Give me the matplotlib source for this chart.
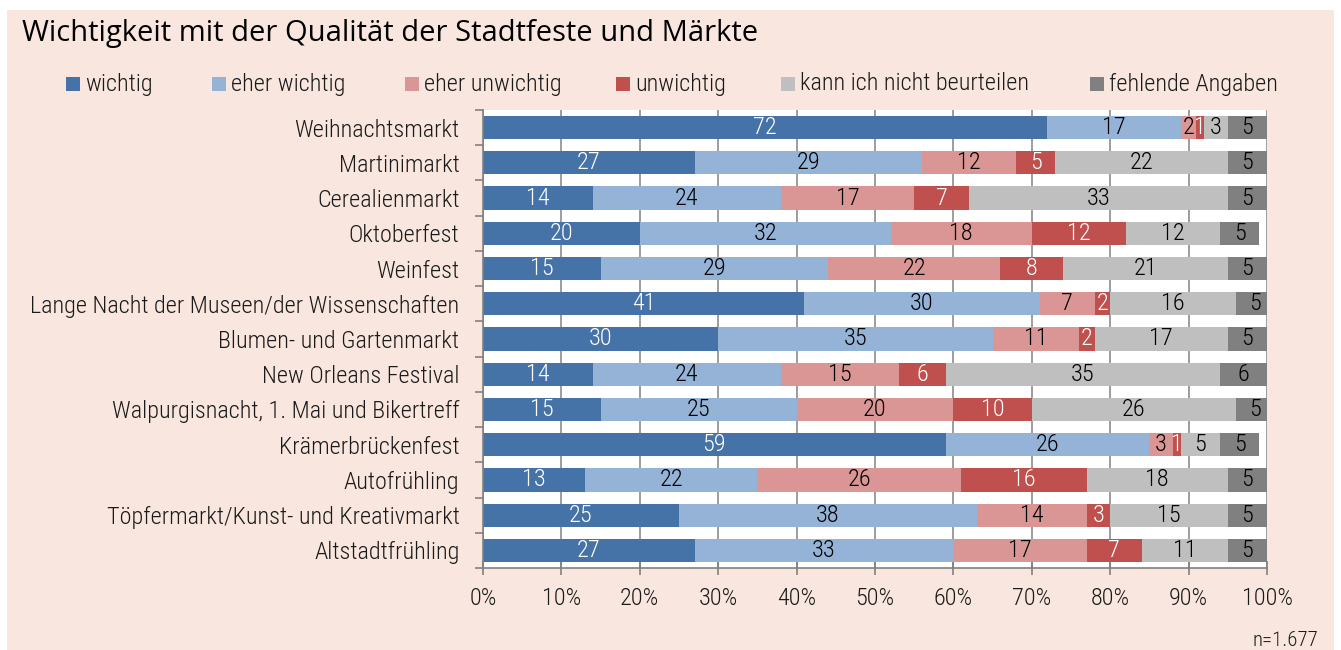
import matplotlib
matplotlib.use("Agg")
import matplotlib.pyplot as plt
from matplotlib import font_manager
from matplotlib.patches import Rectangle
import numpy as np

# ---- data ----
categories = [
    "Weihnachtsmarkt",
    "Martinimarkt",
    "Cerealienmarkt",
    "Oktoberfest",
    "Weinfest",
    "Lange Nacht der Museen/der Wissenschaften",
    "Blumen- und Gartenmarkt",
    "New Orleans Festival",
    "Walpurgisnacht, 1. Mai und Bikertreff",
    "Krämerbrückenfest",
    "Autofrühling",
    "Töpfermarkt/Kunst- und Kreativmarkt",
    "Altstadtfrühling",
]
wichtig = [72, 27, 14, 20, 15, 41, 30, 14, 15, 59, 13, 25, 27]
eher_wichtig = [17, 29, 24, 32, 29, 30, 35, 24, 25, 26, 22, 38, 33]
eher_unwichtig = [2, 12, 17, 18, 22, 7, 11, 15, 20, 3, 26, 14, 17]
unwichtig = [1, 5, 7, 12, 8, 2, 2, 6, 10, 1, 16, 3, 7]
nicht_beurteilen = [3, 22, 33, 12, 21, 16, 17, 35, 26, 5, 18, 15, 11]
fehlend = [5, 5, 5, 5, 5, 5, 5, 6, 5, 5, 5, 5, 5]

series_names = ["wichtig", "eher wichtig", "eher unwichtig", "unwichtig",
                "kann ich nicht beurteilen", "fehlende Angaben"]
series_values = [wichtig, eher_wichtig, eher_unwichtig, unwichtig,
                 nicht_beurteilen, fehlend]
series_colors = ["#4573A7", "#95B3D7", "#DA9694", "#C0504D", "#BFBFBF", "#808080"]
label_colors = ["white", "black", "black", "white", "black", "black"]
xtick_values = [0, 10, 20, 30, 40, 50, 60, 70, 80, 90, 100]
title_text = "Wichtigkeit mit der Qualität der Stadtfeste und Märkte"
sample_note = "n=1.677"

# ---- fonts ----
available = {f.name for f in font_manager.fontManager.ttflist}
font = "DejaVu Sans"
for cand in ["Liberation Sans Narrow", "Roboto Condensed", "Open Sans Condensed",
             "Noto Sans", "Lato"]:
    if cand in available:
        font = cand
        break
title_font = "Open Sans" if "Open Sans" in available else "DejaVu Sans"
plt.rcParams["font.family"] = [font, "DejaVu Sans"]
plt.rcParams["font.weight"] = "light"
txt = "#1a1a1a"
fs = 17.5

W, H = 1341, 650
fig = plt.figure(figsize=(W / 100, H / 100), dpi=100)
fig.patch.set_facecolor("white")

# peach panel behind everything
fig.add_artist(Rectangle((7 / W, 0), (1334 - 7) / W, 1 - 10 / H,
                         transform=fig.transFigure, facecolor="#F9E7DF",
                         edgecolor="none", zorder=0))

ax = fig.add_axes([483 / W, 1 - 568 / H, (1267 - 483) / W, (568 - 110) / H])
ax.set_facecolor("white")
ax.set_zorder(1)

y = np.arange(len(categories))
left = np.zeros(len(categories))
for vals, color, lc in zip(series_values, series_colors, label_colors):
    vals = np.array(vals, dtype=float)
    ax.barh(y, vals, left=left, height=0.66, color=color, edgecolor="none", zorder=2)
    for yi, (l, v) in enumerate(zip(left, vals)):
        ax.text(l + v / 2, yi, f"{int(v)}", ha="center", va="center",
                color=lc, fontsize=fs, zorder=3)
    left += vals

ax.set_xlim(0, 100)
ax.set_ylim(len(categories) - 0.5, -0.5)
ax.set_yticks(y)
ax.set_yticklabels(categories, fontsize=fs, color=txt)
ax.tick_params(axis="y", length=0, pad=17)
ax.set_yticks(np.arange(len(categories) + 1) - 0.5, minor=True)
ax.tick_params(axis="y", which="minor", length=6, color="#808080", width=1.2)

ax.set_xticks(xtick_values)
ax.set_xticklabels([f"{v}%" for v in xtick_values], fontsize=fs, color=txt)
ax.tick_params(axis="x", direction="inout", length=10, color="#808080", width=1.2, pad=9)
ax.grid(axis="x", color="#8C8C8C", linewidth=1.2, zorder=1)
ax.set_axisbelow(True)

for s in ["top", "right"]:
    ax.spines[s].set_visible(False)
for s in ["left", "bottom"]:
    ax.spines[s].set_color("#808080")
    ax.spines[s].set_linewidth(1.2)

# title
fig.text(22 / W, 1 - 33 / H, title_text, fontsize=21, color="black",
         family=[title_font, "DejaVu Sans"], weight="normal",
         ha="left", va="center")

# legend, laid out along one row
legend_x = [66, 212, 405, 616, 781, 1090]
ly = 84
sq = 14
for xpos, name, color in zip(legend_x, series_names, series_colors):
    fig.add_artist(Rectangle((xpos / W, 1 - (ly + sq / 2) / H), sq / W, sq / H,
                             transform=fig.transFigure, facecolor=color,
                             edgecolor="none", zorder=2))
    fig.text((xpos + sq + 5) / W, 1 - ly / H, name, fontsize=fs, color=txt,
             ha="left", va="center")

fig.text(1318 / W, 1 - 641 / H, sample_note, fontsize=15, color=txt,
         ha="right", va="center")

fig.savefig("out.png", dpi=100, facecolor=fig.get_facecolor())
